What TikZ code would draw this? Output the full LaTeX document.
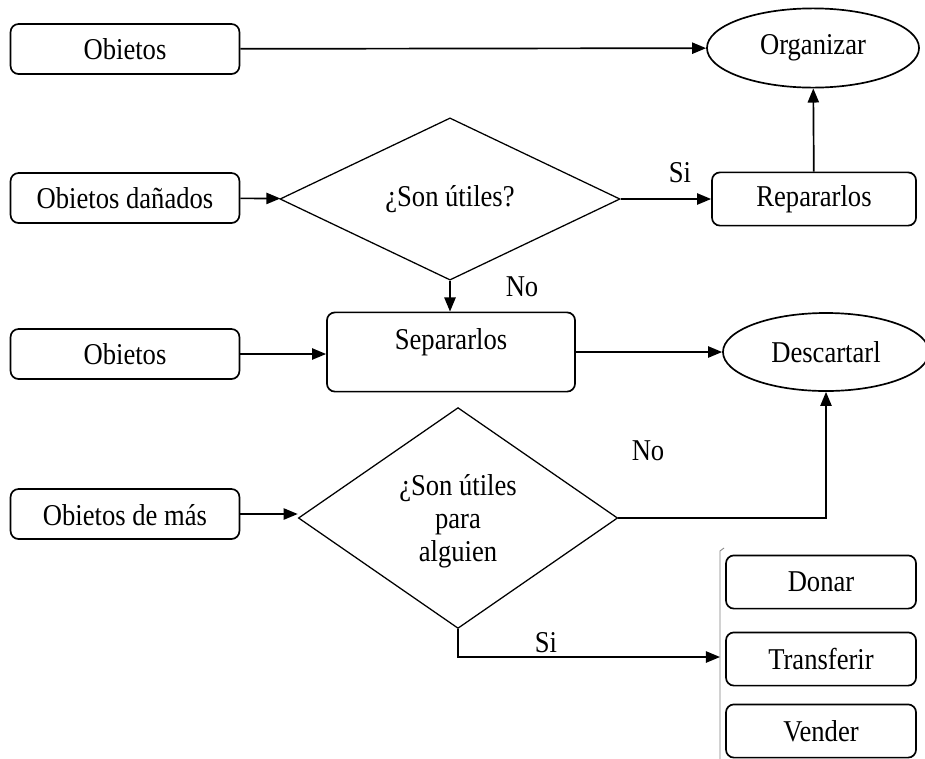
\documentclass[tikz,border=0pt]{standalone}
\usepackage{fontspec}
\setmainfont{Liberation Serif}[FakeStretch=0.88]
\usetikzlibrary{shapes.geometric, arrows.meta, positioning}
\tikzstyle{caja} = [rectangle, rounded corners=0.2cm, draw=black, line width=1.2pt, minimum width=5.72cm, minimum height=1.25cm, inner sep=2pt]
\tikzstyle{opcion} = [caja, minimum width=4.75cm, minimum height=1.33cm]
\tikzstyle{fin} = [ellipse, draw=black, line width=1.2pt, inner sep=1pt]
\tikzstyle{decision} = [diamond, draw=black, line width=0.9pt, align=center, inner sep=1pt]
\tikzstyle{flecha} = [line width=1.2pt, -{Triangle[length=10pt,width=8pt]}]

\begin{document}
\begin{tikzpicture}[x=0.025cm, y=-0.025cm, font=\fontsize{21.5}{23.5}\selectfont]
   \useasboundingbox (0,0) rectangle (925,758);
   % fila de arriba
   \node (obj1) [caja] at (125,49) {Obietos};
   \node (org) [fin, minimum width=5.3cm, minimum height=1.98cm] at (813,48) {Organizar};
   \draw [flecha] (obj1) -- (org);

   \node (dan) [caja] at (125,198) {Obietos dañados};
   \node (util1) [decision, minimum width=8.5cm, minimum height=2.85cm] at (450,199) {¿Son útiles?};
   \node (rep) [caja, minimum width=5.1cm, minimum height=1.33cm] at (814,199) {Repararlos};
   \draw [flecha] (dan) -- (util1);
   \draw [flecha] (util1) -- (rep);
   \node (si1) at (680,173) {Si};
   \draw [flecha] (rep) -- (org);

   % separar
   \node (obj2) [caja] at (125,354) {Obietos};
   \node (sep) [caja, minimum width=6.2cm, minimum height=1.98cm, text depth=19pt] at (451,352) {Separarlos};
   \node (desc) [fin, minimum width=5.15cm, minimum height=1.95cm] at (826,352) {Descartarl};
   \draw [flecha] (util1.south) -- (util1.south |- sep.north);
   \node (no1) at (522,287) {No};
   \draw [flecha] (obj2) -- (obj2 -| sep.west);
   \draw [flecha] (sep) -- (desc);

   % objetos de mas
   \node (obj3) [caja, text height=17pt] at (125,514) {Obietos de más};
   \node (util2) [decision, minimum width=7.98cm, minimum height=5.52cm, text depth=0pt] at (458,518) {¿Son útiles\\para\\alguien};
   \draw [flecha] (obj3) -- (obj3 -| util2.west);
   \draw [flecha] (util2.east) -- (util2.east -| desc.south) -- (desc.south);
   \node (no2) at (648,451) {No};

   % opciones
   \coordinate (llave) at (720,657);
   \draw [gray, line width=0.6pt] (724,548) -- (720,551) -- (720,760);
   \node (donar) [opcion] at (821,582) {Donar};
   \node (transf) [opcion] at (821,659) {Transferir};
   \node (vender) [opcion] at (821,731) {Vender};
   \draw [flecha] (util2.south) -- (util2.south |- llave) -- (llave);
   \node (si2) at (546,643) {Si};
\end{tikzpicture}
\end{document}
